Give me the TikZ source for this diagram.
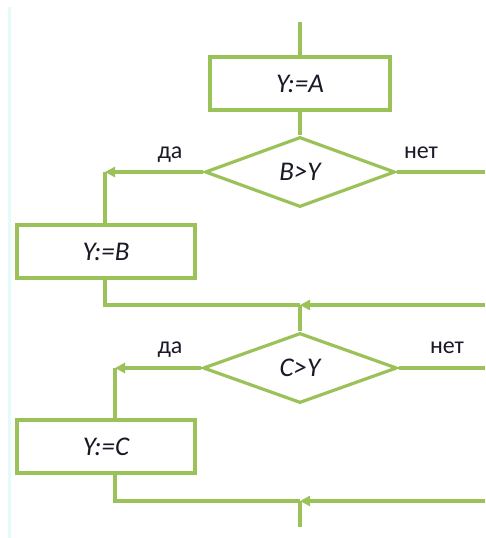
\documentclass[tikz,border=0pt]{standalone}
\usepackage{fontspec}
\setmainfont{Carlito}
\usetikzlibrary{shapes.geometric,arrows.meta}
\definecolor{flowgreen}{RGB}{155,194,89}
\definecolor{faintcyan}{RGB}{226,252,250}
\definecolor{txt}{RGB}{25,25,40}
\tikzset{
  flow/.style={draw=flowgreen, line width=3.2pt},
  procbox/.style={flow, rectangle, minimum width=180pt, minimum height=53pt, inner sep=0pt, font=\fontsize{27}{29}\selectfont\itshape, text=txt},
  decision/.style={flow, diamond, inner sep=0pt, font=\fontsize{27}{29}\selectfont\itshape, text=txt},
  lbl/.style={font=\fontsize{24}{26}\selectfont, text=txt, anchor=base, inner sep=0pt},
  conn/.style={draw=flowgreen, line width=3.2pt},
  arr/.style={conn, -{Triangle[length=10pt,width=10pt]}},
}
\begin{document}
\begin{tikzpicture}[x=1pt,y=-1pt]
\useasboundingbox (0,0) rectangle (485,538);
\draw[faintcyan, line width=3pt] (9.5,7) -- (9.5,538);

\node[procbox] (A) at (300,83.5) {Y:=A};
\node[decision, minimum width=190pt, minimum height=70pt] (d1) at (300,172) {B>Y};
\node[procbox, minimum width=178pt] (B) at (106,251.5) {Y:=B};
\node[decision, minimum width=194pt, minimum height=70pt] (d2) at (300,368) {C>Y};
\node[procbox, minimum width=178pt] (C) at (106,446.5) {Y:=C};

\node[lbl] (da1) at (170,158) {да};
\node[lbl] (net1) at (421,158) {нет};
\node[lbl] (da2) at (170,353) {да};
\node[lbl] (net2) at (447,353) {нет};

\coordinate (start) at (300,22);
\coordinate (y1) at (105,172);
\coordinate (r1) at (485,172);
\coordinate (m1l) at (105,305);
\coordinate (m1) at (300,305);
\coordinate (m1r) at (485,305);
\coordinate (y2) at (115,368);
\coordinate (r2) at (485,368);
\coordinate (m2l) at (115,501);
\coordinate (m2) at (300,501);
\coordinate (m2r) at (485,501);
\coordinate (endp) at (300,527);

\draw[conn] (start) -- (A.north);
\draw[conn] (A.south) -- (d1.north);
\draw[arr] (d1.west) -- (y1);
\draw[conn] (y1) -- (y1 |- B.north);
\draw[conn] (d1.east) -- (r1);
\draw[conn] (m1l |- B.south) -- (m1l) -- (m1);
\draw[arr] (m1r) -- (m1);
\draw[conn] (m1) -- (d2.north);
\draw[arr] (d2.west) -- (y2);
\draw[conn] (y2) -- (y2 |- C.north);
\draw[conn] (d2.east) -- (r2);
\draw[conn] (m2l |- C.south) -- (m2l) -- (m2);
\draw[arr] (m2r) -- (m2);
\draw[conn] (m2) -- (endp);
\end{tikzpicture}
\end{document}
